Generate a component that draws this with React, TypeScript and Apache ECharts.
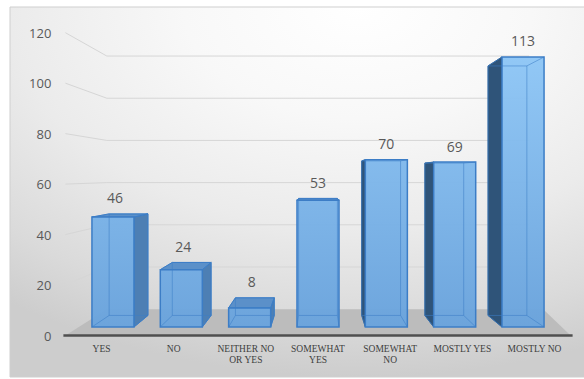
import React, { useEffect, useRef } from "react";
import * as echarts from "echarts";

// Survey answers and their counts
const categories = [
  "YES",
  "NO",
  "NEITHER NO\nOR YES",
  "SOMEWHAT\nYES",
  "SOMEWHAT\nNO",
  "MOSTLY YES",
  "MOSTLY NO",
];
const responses = [46, 24, 8, 53, 70, 69, 113];
const valueTicks = [0, 20, 40, 60, 80, 100, 120];

// Perspective set-up: depth planes are scaled toward a vanishing point
// placed at the horizontal centre of the plot, slightly above mid-height.
const EYE_LEVEL = 0.47; // vanishing point, as a fraction of plot height from the top
const S_BAR_FRONT = 0.947;
const S_BAR_BACK = 0.875;
const S_WALL = 0.836;
const BAR_RATIO = 0.615;

type Pt = number[];
const project = (p: Pt, s: number, vp: Pt): Pt => [
  vp[0] + (p[0] - vp[0]) * s,
  vp[1] + (p[1] - vp[1]) * s,
];

export default function App() {
  const ref = useRef<HTMLDivElement>(null);

  useEffect(() => {
    document.body.style.margin = "0";
    const chart = echarts.init(ref.current!, null, { renderer: "svg" });

    const frontFill = new echarts.graphic.LinearGradient(
      0, 40, 0, 335,
      [
        { offset: 0, color: "#90c8f7" },
        { offset: 1, color: "#68a2dc" },
      ],
      true
    );

    const option: any = {
      animation: false,
      graphic: [
        {
          type: "rect",
          z: -10,
          silent: true,
          shape: { x: 10, y: 7, width: 580, height: 370 },
          style: {
            fill: new echarts.graphic.RadialGradient(0.6, 0.0, 1.0, [
              { offset: 0, color: "#ffffff" },
              { offset: 0.3, color: "#f8f8f8" },
              { offset: 0.6, color: "#ebebeb" },
              { offset: 0.85, color: "#dadada" },
              { offset: 1, color: "#cdcdcd" },
            ]),
            stroke: "#cfcfcf",
            lineWidth: 1,
          },
        },
      ],
      grid: { left: 65.4, right: 13.4, top: 32.7, bottom: 43.5 },
      xAxis: {
        type: "category",
        data: categories,
        axisLine: { show: false },
        axisTick: { show: false },
        axisLabel: {
          interval: 0,
          margin: 8,
          color: "#404040",
          fontFamily: "Liberation Serif",
          fontSize: 9.5,
          lineHeight: 11,
        },
      },
      yAxis: {
        type: "value",
        min: 0,
        max: 120,
        interval: 20,
        axisLine: { show: false },
        axisTick: { show: false },
        splitLine: { show: false },
        axisLabel: {
          margin: 14,
          color: "#595959",
          fontFamily: "Open Sans",
          fontSize: 13,
        },
      },
      series: [
        {
          // walls, floor and front edge
          type: "custom",
          z: 1,
          silent: true,
          data: [[0, 0]],
          renderItem: (params: any, api: any) => {
            const cs = params.coordSys;
            const vp = [cs.x + cs.width / 2, cs.y + cs.height * EYE_LEVEL];
            const y0 = api.coord([0, 0])[1];
            const fl = [cs.x, y0];
            const fr = [cs.x + cs.width, y0];
            const bl = project(fl, S_WALL, vp);
            const br = project(fr, S_WALL, vp);
            br[0] += 14;
            const children: any[] = [];
            valueTicks.forEach((t) => {
              if (t === 0) return;
              const yf = api.coord([0, t])[1];
              const a = [cs.x, yf];
              const b = project(a, S_WALL, vp);
              const c = project([cs.x + cs.width, yf], S_WALL, vp);
              children.push({
                type: "polyline",
                shape: { points: [a, b, c] },
                style: { stroke: "#d6d6d6", lineWidth: 1, fill: null },
              });
            });
            children.push({
              type: "polygon",
              shape: { points: [fl, fr, br, bl] },
              style: { fill: "#bcbcbc" },
            });
            children.push({
              type: "line",
              shape: { x1: fl[0] - 2, y1: y0, x2: fr[0] + 2, y2: y0 },
              style: { stroke: "#4f4f4f", lineWidth: 2.5 },
            });
            return { type: "group", children };
          },
        },
        {
          type: "custom",
          z: 2,
          data: responses.map((v, i) => [i, v]),
          renderItem: (params: any, api: any) => {
            const cs = params.coordSys;
            const vp = [cs.x + cs.width / 2, cs.y + cs.height * EYE_LEVEL];
            const idx = api.value(0);
            const v = api.value(1);
            const base = api.coord([idx, 0]);
            const top = api.coord([idx, v]);
            const half = (api.size([1, 0])[0] * BAR_RATIO) / 2;
            const xl = base[0] - half;
            const xr = base[0] + half;
            const yb = base[1];
            const yt = top[1];
            const F = (x: number, y: number) => project([x, y], S_BAR_FRONT, vp);
            const B = (x: number, y: number) => project([x, y], S_BAR_BACK, vp);
            const fTL = F(xl, yt), fTR = F(xr, yt), fBL = F(xl, yb), fBR = F(xr, yb);
            const bTL = B(xl, yt), bTR = B(xr, yt), bBL = B(xl, yb), bBR = B(xr, yb);
            const edge = "#3c7dc6";
            const children: any[] = [];

            if (fBL[0] > vp[0] + 0.5) {
              children.push({
                type: "polygon",
                shape: { points: [fTL, bTL, bBL, fBL] },
                style: { fill: "#2f5479", stroke: "#2a5a8c", lineWidth: 1 },
              });
            } else if (fBR[0] < vp[0] - 0.5) {
              children.push({
                type: "polygon",
                shape: { points: [fTR, bTR, bBR, fBR] },
                style: { fill: "#4d7fb4", stroke: edge, lineWidth: 1 },
              });
            }
            if (fTL[1] > vp[1]) {
              children.push({
                type: "polygon",
                shape: { points: [fTL, fTR, bTR, bTL] },
                style: { fill: "#5b90c9", stroke: edge, lineWidth: 1 },
              });
            }
            children.push({
              type: "polygon",
              shape: { points: [fTL, fTR, fBR, fBL] },
              style: { fill: frontFill, opacity: 0.96 },
            });
            // back edges seen through the translucent front
            const hidden = "rgba(60,125,198,0.55)";
            children.push({
              type: "polygon",
              shape: { points: [bTL, bTR, bBR, bBL] },
              style: { fill: null, stroke: hidden, lineWidth: 1 },
            });
            [
              [fTL, bTL],
              [fTR, bTR],
              [fBL, bBL],
              [fBR, bBR],
            ].forEach(([a, b]) =>
              children.push({
                type: "line",
                shape: { x1: a[0], y1: a[1], x2: b[0], y2: b[1] },
                style: { stroke: hidden, lineWidth: 1 },
              })
            );
            children.push({
              type: "polygon",
              shape: { points: [fTL, fTR, fBR, fBL] },
              style: { fill: null, stroke: edge, lineWidth: 1.5 },
            });
            children.push({
              type: "text",
              style: {
                text: String(v),
                x: (fTL[0] + fTR[0]) / 2 + (fBR[0] < vp[0] ? 2 : 0),
                y: Math.min(fTL[1], bTL[1]) - 16,
                align: "center",
                verticalAlign: "middle",
                fill: "#595959",
                font: "14px 'Open Sans'",
              },
            });
            return { type: "group", children };
          },
        },
      ],
    };

    chart.setOption(option);
    return () => chart.dispose();
  }, []);

  return <div ref={ref} style={{ width: 584, height: 379 }} />;
}
